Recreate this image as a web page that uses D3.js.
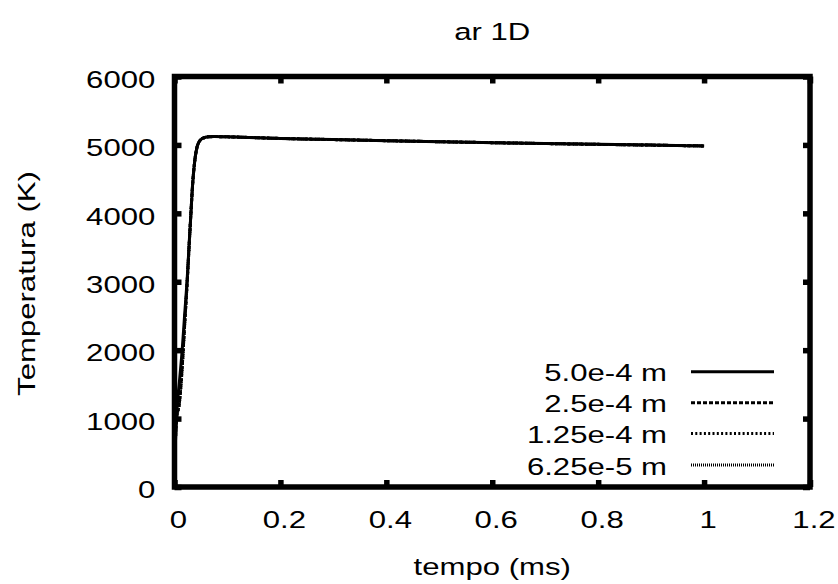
<!DOCTYPE html>
<html>
<head>
<meta charset="utf-8">
<script src="https://cdn.jsdelivr.net/npm/d3@7/dist/d3.min.js"></script>
<style>
  html, body { margin: 0; padding: 0; background: #fff; }
  svg { display: block; }
  text { font-family: "Liberation Sans", Arial, sans-serif; fill: #000; }
</style>
</head>
<body>
<svg id="chart" width="838" height="584"></svg>
<script>
// ---- data ----
const title = "ar 1D";
const xLabel = "tempo (ms)";
const yLabel = "Temperatura (K)";
const xTicks = [0, 0.2, 0.4, 0.6, 0.8, 1, 1.2];
const xTickLabels = ["0", "0.2", "0.4", "0.6", "0.8", "1", "1.2"];
const yTicks = [0, 1000, 2000, 3000, 4000, 5000, 6000];
const yTickLabels = ["0", "1000", "2000", "3000", "4000", "5000", "6000"];
const seriesNames = ["5.0e-4 m", "2.5e-4 m", "1.25e-4 m", "6.25e-5 m"];

const time = [0, 0.0035, 0.0095, 0.0145, 0.019, 0.024, 0.028, 0.031, 0.034, 0.038, 0.042, 0.046, 0.050, 0.056, 0.064, 0.075, 0.1, 0.2, 0.3, 0.4, 0.5, 0.6, 0.7, 0.8, 0.9, 1.0];
const temp_5_0e4  = [300, 1000, 1560, 2000, 2500, 3050, 3600, 4000, 4400, 4750, 4950, 5040, 5080, 5105, 5118, 5122, 5118, 5095, 5078, 5062, 5047, 5033, 5020, 5008, 4997, 4985];
const temp_2_5e4  = [300,  950, 1250, 1750, 2350, 3000, 3580, 4000, 4400, 4750, 4950, 5040, 5080, 5105, 5118, 5122, 5118, 5095, 5078, 5062, 5047, 5033, 5020, 5008, 4997, 4985];
const temp_1_25e4 = [300,  950, 1250, 1750, 2350, 3000, 3580, 4000, 4400, 4750, 4950, 5040, 5080, 5105, 5118, 5122, 5118, 5095, 5078, 5062, 5047, 5033, 5020, 5008, 4997, 4985];
const temp_6_25e5 = [300,  950, 1250, 1750, 2350, 3000, 3580, 4000, 4400, 4750, 4950, 5040, 5080, 5105, 5118, 5122, 5118, 5095, 5078, 5062, 5047, 5033, 5020, 5008, 4997, 4985];
const seriesValues = [temp_5_0e4, temp_2_5e4, temp_1_25e4, temp_6_25e5];

// ---- styles ----
const dashes = [null, "4,2", "2,2.3", "1,1"];
const SX = 1.27;           // horizontal stretch of the reference's text
const FS = 24.5;

const svg = d3.select("#chart");
const L = 174.5, R = 810, T = 76.5, B = 487;
const x = d3.scaleLinear().domain([0, 1.2]).range([L, R]);
const y = d3.scaleLinear().domain([0, 6000]).range([B, T]);
const TICK = -7;

// ---- axes (inward, mirrored ticks) ----
function styleAxis(g) {
  g.select(".domain").remove();
  g.selectAll(".tick line").attr("stroke", "#000").attr("stroke-width", 5.5);
}
const gB = svg.append("g").attr("transform", `translate(0,${B})`)
  .call(d3.axisBottom(x).tickValues(xTicks).tickSize(TICK).tickFormat((d, i) => xTickLabels[i]));
styleAxis(gB);
gB.selectAll(".tick text")
  .attr("y", null).attr("dy", null)
  .attr("font-size", FS).attr("font-family", null)
  .attr("text-anchor", "middle")
  .attr("transform", `translate(3.5,${527.5 - B}) scale(${SX},1)`);

const gT = svg.append("g").attr("transform", `translate(0,${T})`)
  .call(d3.axisTop(x).tickValues(xTicks).tickSize(TICK).tickFormat(""));
styleAxis(gT);

const gL = svg.append("g").attr("transform", `translate(${L},0)`)
  .call(d3.axisLeft(y).tickValues(yTicks).tickSize(TICK).tickFormat((d, i) => yTickLabels[i]));
styleAxis(gL);
gL.selectAll(".tick text")
  .attr("x", null).attr("dy", null)
  .attr("font-size", FS).attr("font-family", null)
  .attr("text-anchor", "end")
  .attr("transform", `translate(${155.3 - L},10.8) scale(${SX},1)`);

const gR = svg.append("g").attr("transform", `translate(${R},0)`)
  .call(d3.axisRight(y).tickValues(yTicks).tickSize(TICK).tickFormat(""));
styleAxis(gR);

// ---- series ----
const line = d3.line()
  .x((d, i) => x(time[i]))
  .y(d => y(d))
  .curve(d3.curveMonotoneX);

svg.append("g").selectAll("path")
  .data(seriesValues)
  .join("path")
  .attr("d", d => line(d))
  .attr("fill", "none")
  .attr("stroke", "#000")
  .attr("stroke-width", 3)
  .attr("stroke-linejoin", "round")
  .attr("stroke-dasharray", (d, i) => dashes[i]);

// ---- frame ----
svg.append("rect")
  .attr("x", L).attr("y", T)
  .attr("width", R - L).attr("height", B - T)
  .attr("fill", "none").attr("stroke", "#000").attr("stroke-width", 5.5);

// ---- legend ----
const legY = [371.7, 402.7, 433.5, 465];
const leg = svg.append("g").selectAll("g")
  .data(seriesNames)
  .join("g");
leg.append("text")
  .attr("text-anchor", "end")
  .attr("font-size", FS)
  .attr("transform", (d, i) => `translate(667,${legY[i] + 9.5}) scale(${SX},1)`)
  .text(d => d);
leg.append("line")
  .attr("x1", 691).attr("x2", 774)
  .attr("y1", (d, i) => legY[i]).attr("y2", (d, i) => legY[i])
  .attr("stroke", "#000").attr("stroke-width", 3)
  .attr("stroke-dasharray", (d, i) => dashes[i]);

// ---- titles ----
svg.append("text")
  .attr("text-anchor", "middle").attr("font-size", FS)
  .attr("transform", `translate(${(L + R) / 2},40) scale(${SX},1)`)
  .text(title);
svg.append("text")
  .attr("text-anchor", "middle").attr("font-size", FS)
  .attr("transform", `translate(${(L + R) / 2},575) scale(${SX},1)`)
  .text(xLabel);
svg.append("text")
  .attr("text-anchor", "middle").attr("font-size", FS)
  .attr("transform", `translate(35,283.5) rotate(-90) scale(${SX},1)`)
  .text(yLabel);
</script>
</body>
</html>
